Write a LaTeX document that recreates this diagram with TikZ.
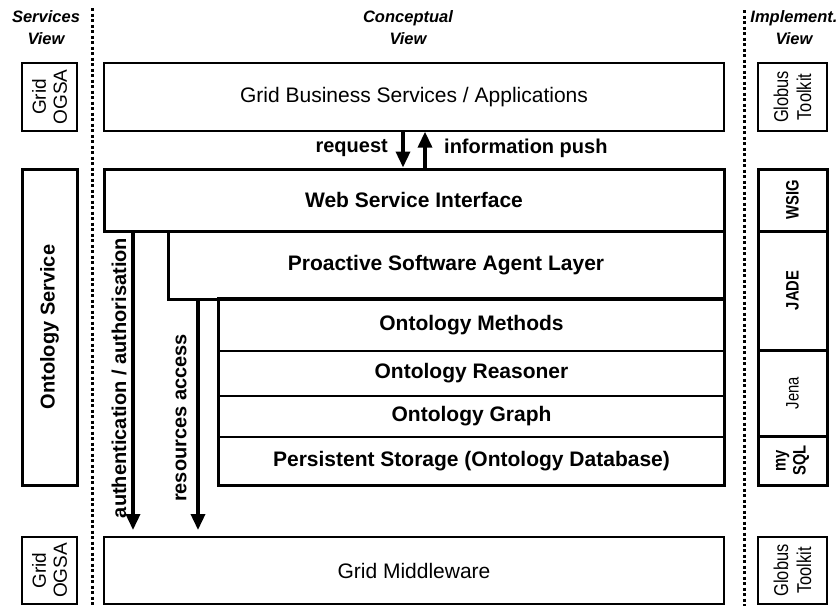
\documentclass[tikz,border=0pt]{standalone}
\usepackage{fontspec}
\setmainfont{Liberation Sans}
\newfontfamily\narrowfont[FakeStretch=0.82]{Liberation Sans}
\usetikzlibrary{arrows.meta}
\begin{document}
\begin{tikzpicture}[x=1pt,y=-1pt,
  thinbox/.style={draw, line width=1.3pt, inner sep=0pt, font=\fontsize{21}{25}\selectfont},
  thickbox/.style={draw, line width=3pt, inner sep=0pt, font=\bfseries\fontsize{21}{25}\selectfont},
  layerbox/.style={draw, line width=1.3pt, inner sep=0pt, font=\bfseries\fontsize{21}{25}\selectfont},
  header/.style={align=center, inner sep=0pt, font=\bfseries\itshape\fontsize{16.5}{22}\selectfont},
  sidelabel/.style={rotate=90, align=center, inner sep=0pt, font=\fontsize{19}{21}\selectfont},
  narrowlabel/.style={rotate=90, align=center, inner sep=0pt, font=\narrowfont\fontsize{20}{23}\selectfont},
  implabel/.style={rotate=90, align=center, inner sep=0pt, font=\narrowfont\bfseries\fontsize{18}{20}\selectfont},
  arrlabel/.style={inner sep=0pt, font=\bfseries\fontsize{20}{24}\selectfont},
  arr/.style={line width=3.5pt, -{Triangle[width=14pt,length=16pt]}},
  viewsep/.style={line width=3pt, dash pattern=on 3pt off 2.5pt}
]
\useasboundingbox (0,0) rectangle (838,606);

% view separators
\draw[viewsep] (92,8) -- (92,606);
\draw[viewsep] (744,10) -- (744,606);

% headers
\node[header] (hserv) at (46,28) {Services\\View};
\node[header] (hconc) at (408,28) {Conceptual\\View};
\node[header] (himpl) at (794,28) {Implement.\\View};

% top row
\node[thinbox, minimum width=55pt, minimum height=68pt] (ogsa1) at (49.5,97) {};
\node[sidelabel] (ogsa1t) at (ogsa1) {Grid\\OGSA};
\node[thinbox, minimum width=620pt, minimum height=68pt] (gbs) at (414,97) {Grid Business Services / Applications};
\node[thinbox, minimum width=69pt, minimum height=68pt] (glob1) at (792.5,97) {};
\node[narrowlabel] (glob1t) at (glob1) {Globus\\Toolkit};

% ontology stack
\node[layerbox, minimum width=505pt, minimum height=52pt] (meth) at (471.5,325) {Ontology Methods};
\node[layerbox, minimum width=505pt, minimum height=45pt] (reas) at (471.5,373.5) {Ontology Reasoner};
\node[layerbox, minimum width=505pt, minimum height=41pt] (graph) at (471.5,416.5) {Ontology Graph};
\node[layerbox, minimum width=505pt, minimum height=48pt] (stor) at (471.5,461) {Persistent Storage (Ontology Database)};
\draw[line width=3pt] (meth.north west) rectangle (stor.south east);

\node[thickbox, minimum width=556pt, minimum height=68pt] (pal) at (446,265) {Proactive Software Agent Layer};
\node[thickbox, minimum width=620pt, minimum height=62pt] (wsi) at (414,200) {Web Service Interface};

% left service box
\node[thickbox, minimum width=55pt, minimum height=316pt] (osvc) at (49.5,327) {};
\node[rotate=90, inner sep=0pt, font=\bfseries\fontsize{20}{24}\selectfont] (osvct) at (osvc) {Ontology Service};

% right implementation column
\node[thickbox, minimum width=69pt, minimum height=62pt] (wsig) at (792.5,200) {};
\node[implabel] (wsigt) at (wsig) {WSIG};
\node[thickbox, minimum width=69pt, minimum height=119pt] (jade) at (792.5,290.5) {};
\node[implabel] (jadet) at (jade) {JADE};
\node[thickbox, minimum width=69pt, minimum height=86pt] (jena) at (792.5,393) {};
\node[implabel, font=\narrowfont\fontsize{18}{20}\selectfont] (jenat) at (jena) {Jena};
\node[thickbox, minimum width=69pt, minimum height=49pt] (mysql) at (792.5,460.5) {};
\node[implabel] (mysqlt) at (mysql) {my\\SQL};

% bottom row
\node[thinbox, minimum width=55pt, minimum height=67pt] (ogsa2) at (49.5,570.5) {};
\node[sidelabel] (ogsa2t) at (ogsa2) {Grid\\OGSA};
\node[thinbox, minimum width=620pt, minimum height=67pt] (gm) at (414,570.5) {Grid Middleware};
\node[thinbox, minimum width=69pt, minimum height=67pt] (glob2) at (792.5,570.5) {};
\node[narrowlabel] (glob2t) at (glob2) {Globus\\Toolkit};

% request / information push
\coordinate (rq) at (403,0);
\coordinate (ip) at (425,0);
\draw[arr] (gbs.south -| rq) -- (wsi.north -| rq);
\draw[arr] (wsi.north -| ip) -- (gbs.south -| ip);
\node[arrlabel, anchor=east] (rqt) at (388,148) {request};
\node[arrlabel, anchor=west] (ipt) at (444,148) {information push};

% access arrows
\coordinate (authtip) at (133,530);
\coordinate (restip) at (198,530);
\draw[arr] (wsi.south -| authtip) -- (authtip);
\draw[arr] (pal.south -| restip) -- (restip);
\node[arrlabel, rotate=90] (autht) at (119,378) {authentication / authorisation};
\node[arrlabel, rotate=90] (rest) at (181,418) {resources access};
\end{tikzpicture}
\end{document}
